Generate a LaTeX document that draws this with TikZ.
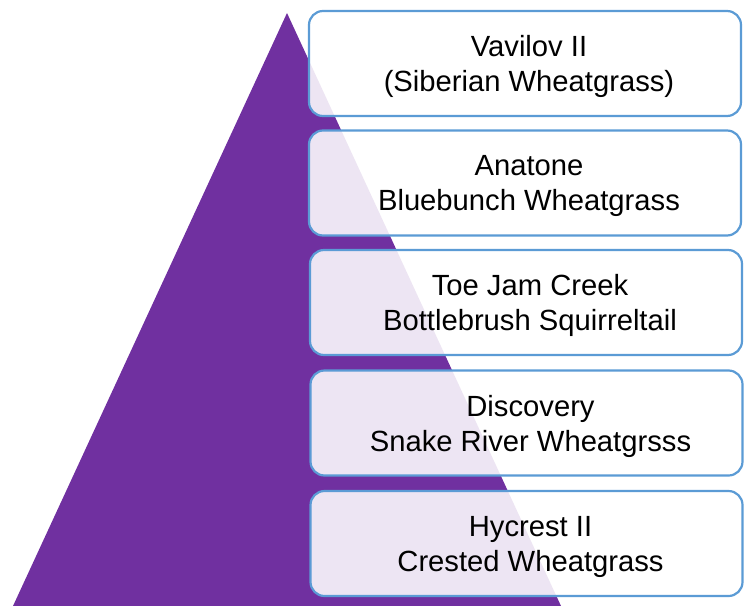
\documentclass[tikz,border=0pt]{standalone}
\usepackage{fontspec}
\setmainfont{Liberation Sans}
\definecolor{pyr}{HTML}{7030A0}
\definecolor{edge}{HTML}{5B9BD5}
\newcommand{\tierind}{\hspace*{8pt}}
\tikzset{
  tierbox/.style={draw=edge, line width=2.2pt, fill=white, fill opacity=0.88, text opacity=1,
    rounded corners=14pt, minimum width=432pt, minimum height=105pt, align=center,
    inner sep=0pt, text depth=-2pt, font=\fontsize{29.2}{35}\selectfont, text=black}
}
\begin{document}
\begin{tikzpicture}[x=1pt,y=-1pt]
\useasboundingbox (0,0) rectangle (744,605);
\fill[pyr] (13,606) -- (287,13) -- (561,606) -- cycle;
\node[tierbox] (t1) at (525,63.5) {\tierind Vavilov II\\\tierind(Siberian Wheatgrass)};
\node[tierbox] (t2) at (525,183) {\tierind Anatone\\\tierind Bluebunch Wheatgrass};
\node[tierbox] (t3) at (526,302.5) {\tierind Toe Jam Creek\\\tierind Bottlebrush Squirreltail};
\node[tierbox] (t4) at (526.5,423) {\tierind Discovery\\\tierind Snake River Wheatgrsss};
\node[tierbox] (t5) at (526.5,543.5) {\tierind Hycrest II\\\tierind Crested Wheatgrass};
\end{tikzpicture}
\end{document}
